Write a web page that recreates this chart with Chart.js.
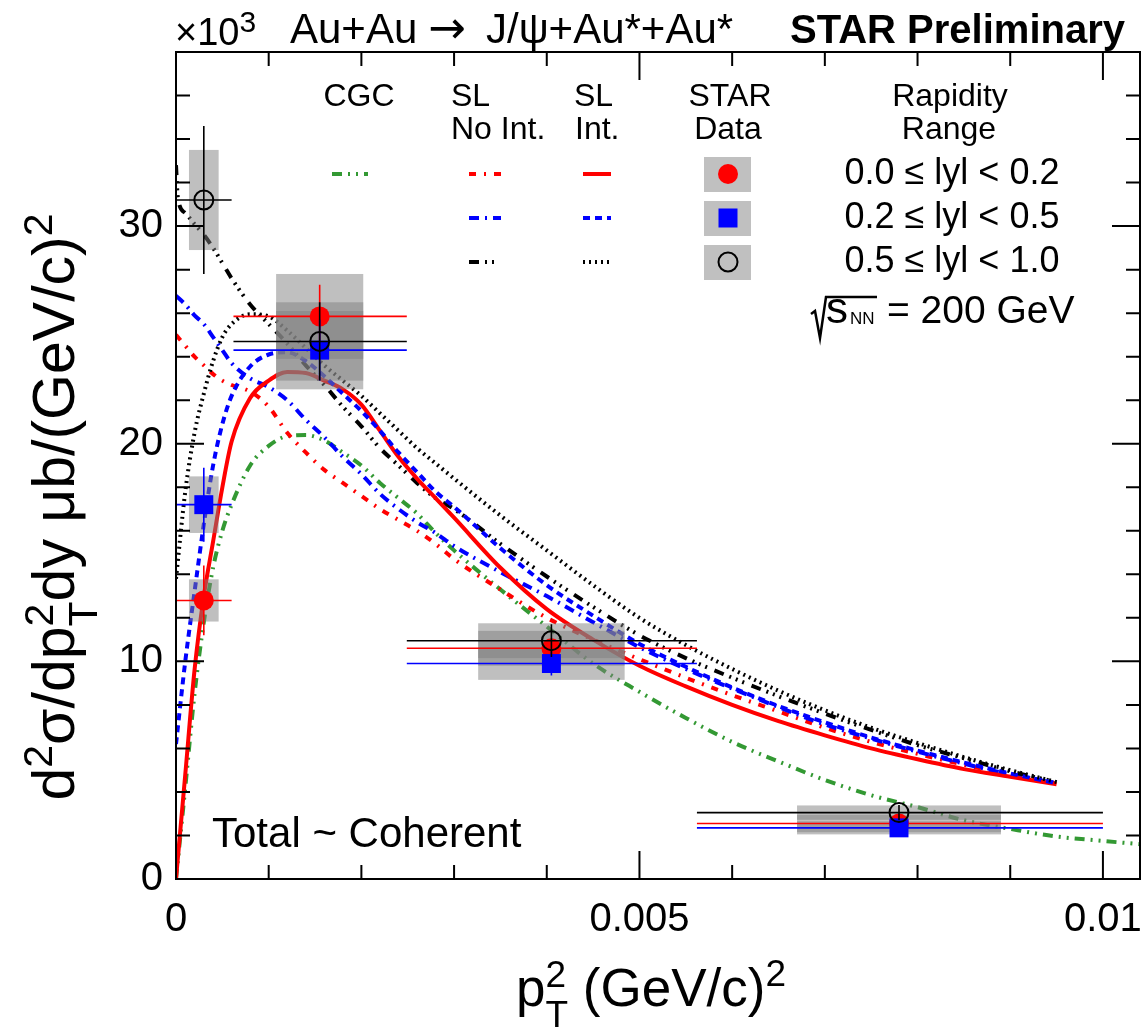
<!DOCTYPE html>
<html>
<head>
<meta charset="utf-8">
<script src="https://cdn.jsdelivr.net/npm/chart.js@4.4.1/dist/chart.umd.min.js"></script>
<style>
  html, body { margin: 0; padding: 0; background: #fff; }
  #wrap { width: 1143px; height: 1029px; }
</style>
</head>
<body>
<div id="wrap"><canvas id="c" width="1143" height="1029"></canvas></div>
<script>
// ---- model curves, pT^2 in (GeV/c)^2, values in units of 10^3 ub/(GeV/c)^2
const ptGrid = [0, 0.0001, 0.0002, 0.0003, 0.0004, 0.0005, 0.0006, 0.0008, 0.001, 0.0012, 0.0014, 0.0016,
  0.0018, 0.002, 0.0022, 0.0024, 0.0026, 0.0028, 0.003, 0.0035, 0.004, 0.0045, 0.005, 0.0055, 0.006,
  0.0065, 0.007, 0.0075, 0.008, 0.0085, 0.009, 0.0095]

const cgcX = ptGrid.concat([0.01, 0.0104])
const cgc = [0, 4.2, 8.5, 11.8, 14.3, 16.0, 17.2, 19.0, 19.9, 20.35, 20.4, 20.15, 19.6, 19.0, 18.2, 17.5,
  16.8, 15.9, 15.1, 13.3, 11.6, 9.9, 8.6, 7.4, 6.3, 5.4, 4.55, 3.85, 3.3, 2.7, 2.3, 1.95, 1.75, 1.6]

const slNoInt00 = [25.0, 24.5, 24.0, 23.6, 23.2, 22.9, 22.7, 22.4, 21.7, 20.5, 19.6, 18.8, 18.2, 17.6, 17.0,
  16.5, 16.0, 15.4, 14.7, 13.3, 12.0, 11.0, 10.1, 9.25, 8.45, 7.7, 6.95, 6.3, 5.75, 5.25, 4.8, 4.4]
const slNoInt02 = [26.8, 26.4, 25.9, 25.5, 24.9, 24.3, 23.7, 23.0, 22.6, 22.0, 21.1, 20.3, 19.4, 18.6, 17.7,
  17.0, 16.4, 15.9, 15.3, 14.1, 13.0, 11.8, 10.65, 9.65, 8.75, 7.9, 7.1, 6.45, 5.85, 5.3, 4.8, 4.4]
const slNoInt05X = [0, 0.00002].concat(ptGrid.slice(1))
const slNoInt05 = [32.8, 31.3, 30.6, 30.1, 29.6, 29.0, 28.3, 27.6, 26.4, 25.5, 24.6, 23.6, 22.7, 21.7, 20.8,
  19.8, 19.0, 18.2, 17.5, 17.0, 15.4, 13.9, 12.5, 11.2, 10.15, 9.25, 8.4, 7.6, 6.85, 6.15, 5.55, 4.95, 4.45]

const slInt00 = [0, 4.8, 9.6, 13.0, 15.5, 18.0, 20.1, 22.1, 22.9, 23.3, 23.25, 22.9, 22.5, 21.8, 20.6, 19.4,
  18.4, 17.5, 16.6, 14.3, 12.4, 11.0, 9.8, 8.85, 8.0, 7.25, 6.6, 6.0, 5.5, 5.05, 4.7, 4.35]
const slInt02 = [6.2, 10.0, 13.2, 16.3, 19.0, 20.9, 22.2, 23.55, 24.1, 24.2, 23.8, 23.1, 22.3, 21.5, 20.6,
  19.6, 18.7, 17.8, 17.1, 15.2, 13.5, 12.1, 10.8, 9.75, 8.8, 7.95, 7.2, 6.5, 5.9, 5.35, 4.85, 4.4]
const slInt05 = [13.8, 17.8, 20.5, 22.3, 23.8, 24.9, 25.5, 25.95, 25.85, 25.2, 24.4, 23.6, 22.9, 22.2, 21.4,
  20.6, 19.8, 19.1, 18.4, 16.7, 15.1, 13.5, 12.0, 10.75, 9.65, 8.65, 7.75, 6.95, 6.25, 5.6, 5.0, 4.45]

// ---- STAR data
const binCenter = [0.0003, 0.00155, 0.00405, 0.0078]
const binLow = [0, 0.00062, 0.00249, 0.00562]
const binHigh = [0.0006, 0.00249, 0.00562, 0.0100]
const sysHalfWidth = [0.00016, 0.00047, 0.00079, 0.0011]

const data00 = [12.8, 25.85, 10.6, 2.55]
const stat00 = [1.6, 1.45, 0.4, 0.3]
const sys00 = [0.97, 1.95, 0.8, 0.4]
const data02 = [17.2, 24.3, 9.9, 2.35]
const stat02 = [1.7, 1.4, 0.55, 0.3]
const sys02 = [1.3, 1.8, 0.75, 0.3]
const data05 = [31.2, 24.7, 10.95, 3.05]
const stat05 = [3.4, 1.8, 0.75, 0.35]
const sys05 = [2.3, 1.8, 0.8, 0.33]

const xTicks = [0, 0.005, 0.01]
const xTickLabels = ['0', '0.005', '0.01']
const yTicks = [0, 10, 20, 30]
const yTickLabels = ['0', '10', '20', '30']

const rangeLabels = ['0.0 \u2264 lyl < 0.2', '0.2 \u2264 lyl < 0.5', '0.5 \u2264 lyl < 1.0']

const GREEN = '#339933'
const FONT = '"Liberation Sans", Arial, Helvetica, sans-serif'
const fnt = (size, bold) => (bold ? 'bold ' : '') + size + 'px ' + FONT

const dashCgc = [10, 6, 2, 6, 2, 6]
const dashNoInt00 = [7, 8, 2, 8]
const dashNoInt02 = [10, 6, 2, 6]
const dashNoInt05 = [10, 6, 2, 5, 2, 5, 2, 8]
const dashInt02 = [7, 5]
const dashInt05 = [2, 4]

const xy = (xs, ys) => xs.map((x, i) => ({ x: x, y: ys[i] }))

const star = [
    { y: data05, stat: stat05, sys: sys05, color: '#000' },
    { y: data02, stat: stat02, sys: sys02, color: '#0000ff' },
    { y: data00, stat: stat00, sys: sys00, color: '#ff0000' }
]

function curve(data, color, dash) {
    return {
        data: data, showLine: true, borderColor: color, borderWidth: 4, borderDash: dash,
        pointRadius: 0, fill: false, cubicInterpolationMode: 'monotone'
    }
}

// pieces of text along one baseline (for super/subscripts)
function runWidth(ctx, pieces) {
    let w = 0
    pieces.forEach(p => {
        ctx.font = fnt(p.size)
        if (p.sup !== undefined) w += Math.max(ctx.measureText(p.sup).width, ctx.measureText(p.sub).width)
        else w += ctx.measureText(p.t).width
    })
    return w
}
function drawRun(ctx, pieces, x, y) {
    pieces.forEach(p => {
        ctx.font = fnt(p.size)
        if (p.sup !== undefined) {
            ctx.fillText(p.sup, x, y + p.up)
            ctx.fillText(p.sub, x, y + p.down)
            x += Math.max(ctx.measureText(p.sup).width, ctx.measureText(p.sub).width)
        } else {
            ctx.fillText(p.t, x, y + (p.dy || 0))
            x += ctx.measureText(p.t).width
        }
    })
}

// boxes (systematics) under the markers, stat bars with each series
const errorPlugin = {
    id: 'errors',
    beforeDatasetDraw(chart, args) {
        if (args.index > 2) return
        const ctx = chart.ctx
        const xa = chart.scales.x, ya = chart.scales.y
        ctx.save()
        if (args.index === 2) {
            ctx.fillStyle = 'rgba(128,128,128,0.5)'
            star.forEach(s => s.y.forEach((v, i) => {
                const l = xa.getPixelForValue(binCenter[i] - sysHalfWidth[i])
                const r = xa.getPixelForValue(binCenter[i] + sysHalfWidth[i])
                const t = ya.getPixelForValue(v + s.sys[i])
                const b = ya.getPixelForValue(v - s.sys[i])
                ctx.fillRect(l, t, r - l, b - t)
            }))
        }
        const s = star[args.index]
        ctx.strokeStyle = s.color
        ctx.lineWidth = 1.6
        s.y.forEach((v, i) => {
            const py = ya.getPixelForValue(v)
            const px = xa.getPixelForValue(binCenter[i])
            ctx.beginPath()
            ctx.moveTo(xa.getPixelForValue(binLow[i]), py)
            ctx.lineTo(xa.getPixelForValue(binHigh[i]), py)
            ctx.moveTo(px, ya.getPixelForValue(v + s.stat[i]))
            ctx.lineTo(px, ya.getPixelForValue(v - s.stat[i]))
            ctx.stroke()
        })
        ctx.restore()
    }
}

const framePlugin = {
    id: 'frame',
    afterDraw(chart) {
        const ctx = chart.ctx
        const xa = chart.scales.x, ya = chart.scales.y, a = chart.chartArea
        ctx.save()
        ctx.strokeStyle = '#000'
        ctx.lineWidth = 2
        ctx.strokeRect(a.left, a.top, a.right - a.left, a.bottom - a.top)
        ctx.beginPath()
        for (let i = 0; i <= 10; i++) {
            const px = xa.getPixelForValue(i * 0.001)
            const len = i % 5 === 0 ? 28 : 14
            ctx.moveTo(px, a.bottom); ctx.lineTo(px, a.bottom - len)
            ctx.moveTo(px, a.top); ctx.lineTo(px, a.top + len)
        }
        for (let v = 0; v <= 38; v += 2) {
            const py = ya.getPixelForValue(v)
            const len = v % 10 === 0 ? 28 : 14
            ctx.moveTo(a.left, py); ctx.lineTo(a.left + len, py)
            ctx.moveTo(a.right, py); ctx.lineTo(a.right - len, py)
        }
        ctx.stroke()

        ctx.fillStyle = '#000'
        ctx.textBaseline = 'alphabetic'

        // x tick labels at the scale's tick positions
        ctx.font = fnt(40)
        ctx.textAlign = 'center'
        xTicks.forEach((v, i) => ctx.fillText(xTickLabels[i], xa.getPixelForValue(v), 931))

        // titles
        ctx.textAlign = 'left'
        drawRun(ctx, [{ t: '\u00d710', size: 38 }, { t: '3', size: 30, dy: -13 }], 175, 45)
        ctx.font = fnt(42)
        ctx.fillText('Au+Au', 290, 43)
        ctx.font = '45px "DejaVu Sans", sans-serif'
        ctx.fillText('\u2192', 428, 43)
        ctx.font = fnt(42)
        ctx.fillText('J/\u03c8+Au*+Au*', 486, 43)
        ctx.font = fnt(40, true)
        ctx.textAlign = 'right'
        ctx.fillText('STAR Preliminary', 1125, 43)

        // axis titles
        ctx.textAlign = 'left'
        const xt = [{ t: 'p', size: 53 }, { sup: '2', sub: 'T', size: 37, up: -19, down: 21 },
            { t: ' (GeV/c)', size: 53 }, { t: '2', size: 37, dy: -20 }]
        drawRun(ctx, xt, 651 - runWidth(ctx, xt) / 2, 1006)
        const yt = [{ t: 'd', size: 59 }, { t: '2', size: 41, dy: -22 }, { t: '\u03c3/dp', size: 59 },
            { sup: '2', sub: 'T', size: 41, up: -21, down: 23 }, { t: 'dy \u03bcb/(GeV/c)', size: 59 },
            { t: '2', size: 41, dy: -22 }]
        ctx.save()
        ctx.translate(74, 507 + runWidth(ctx, yt) / 2)
        ctx.rotate(-Math.PI / 2)
        drawRun(ctx, yt, 0, 0)
        ctx.restore()

        // legend headers
        ctx.font = fnt(32)
        ctx.textAlign = 'center'
        ctx.fillText('CGC', 359, 106)
        ctx.fillText('STAR', 730, 106)
        ctx.fillText('Data', 728, 139)
        ctx.fillText('Rapidity', 950, 106)
        ctx.fillText('Range', 949, 139)
        ctx.textAlign = 'left'
        ctx.fillText('SL', 451, 106)
        ctx.fillText('No Int.', 451, 139)
        ctx.fillText('SL', 574, 106)
        ctx.fillText('Int.', 575, 139)

        // legend line samples
        const rows = [174, 218, 262]
        const sample = (x1, x2, y, color, dash) => {
            ctx.strokeStyle = color
            ctx.lineWidth = 4
            ctx.setLineDash(dash)
            ctx.beginPath(); ctx.moveTo(x1, y); ctx.lineTo(x2, y); ctx.stroke()
        }
        sample(332, 368, rows[0], GREEN, dashCgc)
        sample(469, 501, rows[0], '#ff0000', dashNoInt00)
        sample(469, 501, rows[1], '#0000ff', dashNoInt02)
        sample(469, 497, rows[2], '#000', dashNoInt05)
        sample(583, 611, rows[0], '#ff0000', [])
        sample(583, 611, rows[1], '#0000ff', dashInt02)
        sample(583, 611, rows[2], '#000', dashInt05)
        ctx.setLineDash([])

        // legend markers
        ctx.fillStyle = '#c0c0c0'
        rows.forEach(r => ctx.fillRect(704, r - 17, 47, 35))
        ctx.fillStyle = '#ff0000'
        ctx.beginPath(); ctx.arc(728, rows[0], 10, 0, 2 * Math.PI); ctx.fill()
        ctx.fillStyle = '#0000ff'
        ctx.fillRect(718.5, rows[1] - 9.5, 19, 19)
        ctx.strokeStyle = '#000'
        ctx.lineWidth = 2
        ctx.beginPath(); ctx.arc(728, rows[2], 9.5, 0, 2 * Math.PI); ctx.stroke()

        // rapidity ranges
        ctx.fillStyle = '#000'
        ctx.font = fnt(36)
        ctx.textAlign = 'center'
        rangeLabels.forEach((t, i) => ctx.fillText(t, 952, [184, 228, 272][i]))

        // sqrt(s_NN)
        ctx.lineWidth = 2.5
        ctx.beginPath()
        ctx.moveTo(811, 314); ctx.lineTo(815, 311); ctx.lineTo(820, 338); ctx.lineTo(826, 297); ctx.lineTo(877, 297)
        ctx.stroke()
        ctx.textAlign = 'left'
        ctx.font = fnt(44)
        ctx.fillText('s', 826, 323)
        ctx.font = fnt(17)
        ctx.fillText('NN', 850, 324)
        ctx.font = fnt(39)
        ctx.fillText('= 200 GeV', 887, 323)

        ctx.font = fnt(42)
        ctx.fillText('Total ~ Coherent', 212, 847)
        ctx.restore()
    }
}

Chart.defaults.font.family = FONT

new Chart(document.getElementById('c'), {
    type: 'scatter',
    data: {
        datasets: [
            { data: xy(binCenter, data05), pointStyle: 'circle', pointRadius: 9.5, backgroundColor: 'rgba(0,0,0,0)', borderColor: '#000', borderWidth: 2 },
            { data: xy(binCenter, data02), pointStyle: 'rect', pointRadius: 13.4, backgroundColor: '#0000ff', borderWidth: 0 },
            { data: xy(binCenter, data00), pointStyle: 'circle', pointRadius: 10, backgroundColor: '#ff0000', borderWidth: 0 },
            curve(xy(ptGrid, slInt05), '#000', dashInt05),
            curve(xy(ptGrid, slInt02), '#0000ff', dashInt02),
            curve(xy(ptGrid, slInt00), '#ff0000', []),
            curve(xy(slNoInt05X, slNoInt05), '#000', dashNoInt05),
            curve(xy(ptGrid, slNoInt02), '#0000ff', dashNoInt02),
            curve(xy(ptGrid, slNoInt00), '#ff0000', dashNoInt00),
            curve(xy(cgcX, cgc), GREEN, dashCgc)
        ]
    },
    options: {
        responsive: false,
        animation: false,
        devicePixelRatio: 1,
        events: [],
        layout: { autoPadding: false, padding: { top: 52, right: 3, left: 0, bottom: 0 } },
        plugins: { legend: { display: false }, tooltip: { enabled: false } },
        scales: {
            x: {
                type: 'linear', min: 0, max: 0.0104,
                grid: { display: false, drawTicks: false }, border: { display: false },
                afterBuildTicks: s => { s.ticks = xTicks.map(v => ({ value: v })) },
                afterFit: s => { s.height = 150; s.paddingLeft = 0; s.paddingRight = 0 },
                ticks: { display: false }
            },
            y: {
                type: 'linear', min: 0, max: 38,
                grid: { display: false, drawTicks: false }, border: { display: false },
                afterBuildTicks: s => { s.ticks = yTicks.map(v => ({ value: v })) },
                afterFit: s => { s.width = 176; s.paddingTop = 0; s.paddingBottom = 0 },
                ticks: {
                    autoSkip: false, padding: 13, color: '#000', font: { size: 40 },
                    callback: (v, i) => yTickLabels[i]
                }
            }
        }
    },
    plugins: [errorPlugin, framePlugin]
})
</script>
</body>
</html>
